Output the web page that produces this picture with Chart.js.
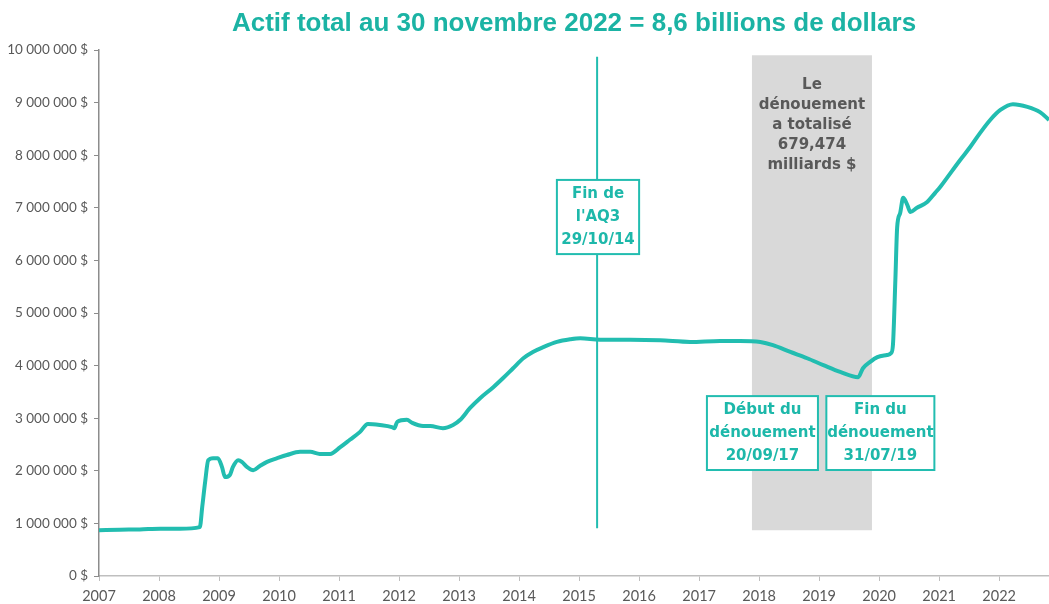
<!DOCTYPE html>
<html>
<head>
<meta charset="utf-8">
<script src="https://cdn.jsdelivr.net/npm/chart.js@4.4.0/dist/chart.umd.min.js"></script>
<style>
  html, body { margin: 0; padding: 0; background: #ffffff; }
  #wrap { width: 1049px; height: 604px; position: relative; }
</style>
</head>
<body>
<div id="wrap"><canvas id="c"></canvas></div>
<script>
// ---- Data (decimal years, total assets in millions of $) ----
const titleText = "Actif total au 30 novembre 2022 = 8,6 billions de dollars";
const years = [
  2007.00, 2007.35, 2007.68, 2008.02, 2008.35, 2008.68, 2008.72, 2008.77, 2008.82, 2008.90,
  2008.98, 2009.05, 2009.10, 2009.18, 2009.23, 2009.32, 2009.38, 2009.47, 2009.57, 2009.68,
  2009.80, 2009.97, 2010.13, 2010.35, 2010.52, 2010.68, 2010.85, 2011.02, 2011.18, 2011.35,
  2011.48, 2011.68, 2011.88, 2011.92, 2011.97, 2012.13, 2012.22, 2012.40, 2012.52, 2012.73,
  2012.90, 2013.02, 2013.18, 2013.35, 2013.57, 2013.73, 2013.90, 2014.07, 2014.23, 2014.40,
  2014.63, 2014.85, 2015.02, 2015.35, 2015.85, 2016.35, 2016.85, 2017.35, 2017.68, 2018.02,
  2018.23, 2018.52, 2018.80, 2019.07, 2019.35, 2019.65, 2019.73, 2019.85, 2019.97, 2020.13,
  2020.20, 2020.23, 2020.27, 2020.30, 2020.35, 2020.40, 2020.47, 2020.52, 2020.63, 2020.80,
  2020.93, 2021.02, 2021.13, 2021.35, 2021.52, 2021.68, 2021.85, 2022.02, 2022.23, 2022.47,
  2022.68, 2022.83
];
const assets = [
  870000, 880000, 885000, 900000, 900000, 930000, 1310000, 1800000, 2200000, 2240000,
  2240000, 2070000, 1880000, 1920000, 2070000, 2200000, 2170000, 2070000, 2010000, 2090000,
  2170000, 2240000, 2300000, 2360000, 2360000, 2320000, 2320000, 2450000, 2590000, 2740000,
  2890000, 2870000, 2830000, 2810000, 2930000, 2970000, 2910000, 2850000, 2850000, 2810000,
  2870000, 2970000, 3190000, 3380000, 3590000, 3760000, 3950000, 4140000, 4260000, 4350000,
  4450000, 4500000, 4520000, 4490000, 4490000, 4480000, 4450000, 4470000, 4470000, 4450000,
  4390000, 4260000, 4140000, 4010000, 3880000, 3780000, 3950000, 4070000, 4160000, 4200000,
  4240000, 4400000, 5630000, 6630000, 6900000, 7190000, 7050000, 6920000, 7000000, 7110000,
  7280000, 7400000, 7570000, 7910000, 8160000, 8420000, 8670000, 8860000, 8970000, 8920000,
  8820000, 8670000
];
const xTickYears = [2007, 2008, 2009, 2010, 2011, 2012, 2013, 2014, 2015, 2016, 2017, 2018, 2019, 2020, 2021, 2022];
const yTickValues = [0, 1000000, 2000000, 3000000, 4000000, 5000000, 6000000, 7000000, 8000000, 9000000, 10000000];

// annotation texts
const qe3Lines = ["Fin de", "l'AQ3", "29/10/14"];
const startLines = ["Début du", "dénouement", "20/09/17"];
const endLines = ["Fin du", "dénouement", "31/07/19"];
const bandLines = ["Le", "dénouement", "a totalisé", "679,474", "milliards $"];

// annotation anchors (data units)
const qe3Line = { x: 2015.30, y1: 910000, y2: 9870000 };
const runoffBand = { x1: 2017.88, x2: 2019.88, y1: 870000, y2: 9900000 };
const qe3Box = { x1: 2014.63, x2: 2016.00, y1: 6120000, y2: 7530000 };
const startBox = { x1: 2017.13, x2: 2018.98, y1: 2015000, y2: 3420000 };
const endBox = { x1: 2019.12, x2: 2020.92, y1: 2015000, y2: 3420000 };
const bandTextAnchor = { x: 2018.88, y: 9340000 };

const TEAL = '#22BDB0';
const TEAL_TEXT = '#1DB8AA';

function fmt(v) {
  return String(v).replace(/\B(?=(\d{3})+(?!\d))/g, ' ') + ' $';
}

const annotations = {
  id: 'annots',
  beforeDatasetsDraw(chart) {
    const { ctx, scales: { x, y } } = chart;
    ctx.save();
    // gray band
    const bx1 = x.getPixelForValue(runoffBand.x1), bx2 = x.getPixelForValue(runoffBand.x2);
    const by1 = y.getPixelForValue(runoffBand.y2), by2 = y.getPixelForValue(runoffBand.y1);
    ctx.fillStyle = '#D9D9D9';
    ctx.fillRect(bx1, by1, bx2 - bx1, by2 - by1);
    // band text
    ctx.fillStyle = '#595959';
    ctx.font = 'bold 15px "DejaVu Sans"';
    ctx.textAlign = 'center';
    ctx.textBaseline = 'middle';
    const tx = x.getPixelForValue(bandTextAnchor.x);
    const ty = y.getPixelForValue(bandTextAnchor.y);
    bandLines.forEach((t, i) => ctx.fillText(t, tx, ty + i * 20));
    ctx.restore();
  },
  afterDatasetsDraw(chart) {
    const { ctx, scales: { x, y } } = chart;
    ctx.save();
    // vertical line
    const lx = x.getPixelForValue(qe3Line.x);
    ctx.strokeStyle = TEAL;
    ctx.lineWidth = 2;
    ctx.beginPath();
    ctx.moveTo(lx, y.getPixelForValue(qe3Line.y2));
    ctx.lineTo(lx, y.getPixelForValue(qe3Line.y1));
    ctx.stroke();
    function box(b, lines) {
      const x1 = x.getPixelForValue(b.x1), x2 = x.getPixelForValue(b.x2);
      const y1 = y.getPixelForValue(b.y2), y2 = y.getPixelForValue(b.y1);
      ctx.fillStyle = '#ffffff';
      ctx.fillRect(x1, y1, x2 - x1, y2 - y1);
      ctx.strokeStyle = TEAL;
      ctx.lineWidth = 2;
      ctx.strokeRect(x1, y1, x2 - x1, y2 - y1);
      ctx.fillStyle = TEAL_TEXT;
      ctx.font = 'bold 15px "DejaVu Sans"';
      ctx.textAlign = 'center';
      ctx.textBaseline = 'middle';
      const cx = (x1 + x2) / 2, cy = (y1 + y2) / 2;
      lines.forEach((t, i) => ctx.fillText(t, cx, cy + (i - 1) * 23));
    }
    box(qe3Box, qe3Lines);
    box(startBox, startLines);
    box(endBox, endLines);
    ctx.restore();
  },
  afterDraw(chart) {
    const { ctx, chartArea } = chart;
    ctx.save();
    ctx.fillStyle = '#1BB3A4';
    ctx.font = 'bold 26px "Liberation Sans", Arial, sans-serif';
    ctx.textAlign = 'center';
    ctx.textBaseline = 'alphabetic';
    ctx.fillText(titleText, (chartArea.left + chartArea.right) / 2, 31);
    ctx.restore();
  }
};

new Chart(document.getElementById('c'), {
  type: 'line',
  data: {
    datasets: [{
      data: years.map((yr, i) => ({ x: yr, y: assets[i] })),
      borderColor: TEAL,
      borderWidth: 4,
      pointRadius: 0,
      pointHoverRadius: 0,
      cubicInterpolationMode: 'monotone',
      fill: false
    }]
  },
  options: {
    responsive: true,
    maintainAspectRatio: false,
    animation: false,
    layout: { padding: { top: 50, right: 0, bottom: 0, left: 0 } },
    plugins: { legend: { display: false }, tooltip: { enabled: false }, title: { display: false } },
    scales: {
      x: {
        type: 'linear',
        min: 2007,
        max: 2022.83,
        afterBuildTicks(scale) { scale.ticks = xTickYears.map(v => ({ value: v })); },
        afterFit(scale) { scale.height = 28; },
        ticks: {
          autoSkip: false,
          maxRotation: 0,
          padding: 7,
          color: '#595959',
          font: { family: 'Lato', size: 14.5 },
          callback: v => String(v)
        },
        grid: { display: true, drawOnChartArea: false, drawTicks: true, tickLength: 5, color: '#BFBFBF', lineWidth: 1 },
        border: { display: true, color: '#BFBFBF', width: 1.5 }
      },
      y: {
        min: 0,
        max: 10000000,
        afterBuildTicks(scale) { scale.ticks = yTickValues.map(v => ({ value: v })); },
        afterFit(scale) { scale.width = 99; },
        ticks: {
          padding: 6,
          color: '#595959',
          font: { family: 'Lato', size: 13.5 },
          callback: v => fmt(v)
        },
        grid: { display: true, drawOnChartArea: false, drawTicks: true, tickLength: 5, color: '#8C8C8C', lineWidth: 1 },
        border: { display: true, color: '#8C8C8C', width: 1.5 }
      }
    }
  },
  plugins: [annotations]
});
</script>
</body>
</html>
